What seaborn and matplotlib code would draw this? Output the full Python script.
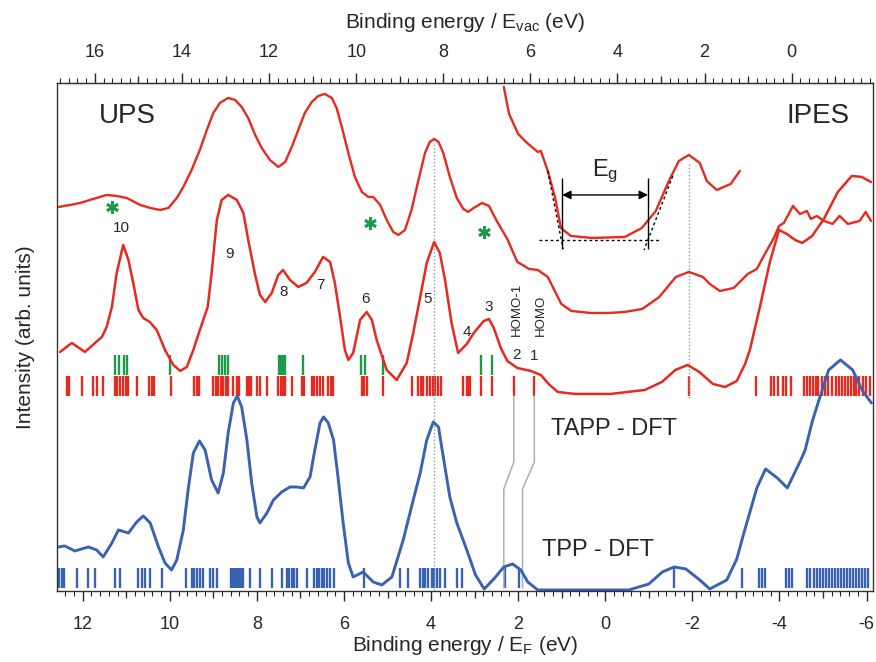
import matplotlib
matplotlib.use("Agg")
import matplotlib.pyplot as plt
from matplotlib.ticker import MultipleLocator
import seaborn as sns

# E_vac = E_F + work function
VAC_OFFSET = 4.28

# measured UPS + IPES spectrum (x: binding energy vs E_F, y: arb. units)
exp_energy = [12.55, 12.29, 12.06, 11.76, 11.45, 11.22, 10.99, 10.68, 10.45, 10.22,
              10.03, 9.84, 9.69, 9.50, 9.31, 9.15, 9.00, 8.85, 8.66, 8.50,
              8.35, 8.20, 8.04, 7.89, 7.70, 7.51, 7.35, 7.20, 7.05, 6.90,
              6.74, 6.59, 6.44, 6.28, 6.17, 6.05, 5.90, 5.75, 5.59, 5.44,
              5.33, 5.17, 5.02, 4.87, 4.75, 4.60, 4.45, 4.29, 4.14, 4.03,
              3.93, 3.83, 3.72, 3.57, 3.41, 3.26, 3.15, 3.02, 2.83, 2.67,
              2.48, 2.25, 2.02, 1.94, 1.75, 1.55, 1.32, 1.16, 1.01, 0.78,
              0.35, -0.08, -0.45, -0.85, -1.24, -1.62, -1.92, -2.24, -2.40, -2.63,
              -2.95, -3.27, -3.48, -3.64, -3.87, -3.99, -4.10, -4.31, -4.47, -4.63,
              -4.72, -4.86, -5.02, -5.22, -5.38, -5.57, -5.84, -5.98, -6.10]
exp_intensity = [393, 395, 397, 401, 405, 404, 402, 395, 392, 390,
                 392, 402, 413, 430, 450, 470, 487, 497, 502, 500,
                 493, 482, 465, 452, 440, 433, 438, 453, 470, 487,
                 498, 504, 506, 502, 492, 473, 447, 423, 408, 403,
                 403, 395, 380, 368, 365, 370, 390, 420, 447, 458,
                 461, 458, 447, 423, 402, 391, 388, 392, 397, 394,
                 378, 361, 338, 336, 331, 330, 323, 309, 296, 289,
                 287, 287, 288, 291, 303, 323, 328, 323, 316, 309,
                 312, 326, 331, 344, 362, 374, 377, 394, 386, 389,
                 381, 384, 379, 376, 384, 376, 379, 388, 379]

# magnified gap region (upper trace)
gap_energy = [2.33, 2.21, 2.00, 1.77, 1.55, 1.48, 1.32, 1.15, 1.02, 0.79, 0.31, -0.45,
              -0.84, -1.16, -1.46, -1.69, -1.92, -2.17, -2.33, -2.56, -2.88, -3.09]
gap_intensity = [513, 486, 466, 456, 448, 449, 429, 402, 372, 364, 362, 363,
                 372, 389, 419, 439, 445, 437, 419, 410, 416, 429]

# broadened TAPP DFT density of states
tapp_energy = [12.52, 12.25, 11.95, 11.56, 11.45, 11.33, 11.22, 11.07, 10.95, 10.84,
               10.72, 10.61, 10.46, 10.30, 10.11, 9.92, 9.76, 9.61, 9.46, 9.31,
               9.13, 9.04, 8.92, 8.81, 8.66, 8.46, 8.31, 8.20, 8.04, 7.93,
               7.81, 7.66, 7.51, 7.40, 7.24, 7.05, 6.86, 6.67, 6.48, 6.32,
               6.21, 6.09, 5.98, 5.90, 5.79, 5.63, 5.48, 5.36, 5.25, 5.02,
               4.79, 4.56, 4.41, 4.25, 4.10, 3.93, 3.80, 3.68, 3.53, 3.38,
               3.18, 3.02, 2.79, 2.67, 2.56, 2.40, 2.25, 2.02, 1.71, 1.48,
               1.28, 1.09, 0.70, -0.11, -0.91, -1.30, -1.61, -1.89, -2.16, -2.47,
               -2.75, -3.02, -3.21, -3.32, -3.55, -3.78, -3.99, -4.17, -4.36, -4.52,
               -4.75, -5.02, -5.34, -5.66, -5.89, -6.10]
tapp_intensity = [248, 257, 248, 263, 273, 293, 327, 355, 340, 317,
                  290, 282, 278, 270, 250, 235, 229, 233, 250, 270,
                  293, 327, 380, 400, 405, 400, 387, 360, 325, 305,
                  298, 307, 325, 330, 320, 313, 317, 328, 343, 338,
                  317, 283, 250, 240, 247, 280, 288, 280, 260, 230,
                  220, 237, 267, 303, 337, 358, 347, 320, 277, 247,
                  256, 267, 279, 281, 272, 252, 239, 232, 229, 225,
                  215, 208, 206, 206, 210, 218, 230, 235, 228, 216,
                  213, 219, 236, 250, 293, 338, 370, 366, 360, 357,
                  364, 381, 408, 424, 423, 418]

# broadened TPP DFT density of states
tpp_energy = [12.55, 12.41, 12.18, 11.87, 11.68, 11.53, 11.33, 11.18, 10.95, 10.76,
              10.61, 10.45, 10.26, 10.11, 9.96, 9.84, 9.69, 9.58, 9.46, 9.32,
              9.19, 9.04, 8.89, 8.77, 8.66, 8.54, 8.45, 8.35, 8.23, 8.12,
              8.00, 7.93, 7.77, 7.62, 7.43, 7.24, 7.09, 6.93, 6.78, 6.67,
              6.55, 6.47, 6.36, 6.24, 6.13, 6.02, 5.90, 5.79, 5.56, 5.33,
              5.13, 4.90, 4.64, 4.41, 4.25, 4.10, 3.95, 3.83, 3.72, 3.57,
              3.41, 3.18, 2.98, 2.78, 2.56, 2.33, 2.13, 1.94, 1.78, 1.55,
              1.30, 0.50, -0.54, -1.00, -1.31, -1.58, -1.85, -2.17, -2.40, -2.79,
              -3.02, -3.17, -3.48, -3.68, -3.95, -4.18, -4.49, -4.59, -4.75, -4.90,
              -5.13, -5.40, -5.68, -5.91, -6.11]
tpp_intensity = [53, 54, 49, 53, 50, 43, 57, 70, 67, 78,
                 84, 77, 53, 37, 30, 40, 70, 110, 147, 159,
                 150, 120, 107, 127, 167, 197, 204, 193, 160, 117,
                 83, 77, 87, 100, 108, 113, 113, 112, 123, 150,
                 177, 183, 177, 160, 120, 77, 37, 23, 28, 18,
                 15, 23, 60, 100, 127, 160, 178, 173, 143, 103,
                 77, 50, 25, 11, 21, 33, 36, 30, 18, 10,
                 10, 10, 10, 16, 28, 33, 31, 20, 11, 20,
                 41, 65, 112, 131, 122, 112, 140, 150, 178, 199,
                 230, 240, 230, 209, 197]

# orbital energies (sticks)
green_sticks = [11.26, 11.17, 11.06, 10.98, 9.99, 8.87, 8.81, 8.73, 8.66, 7.49, 7.45,
                7.40, 7.36, 6.94, 5.61, 5.52, 5.11, 2.85, 2.60]
tapp_sticks = [12.37, 12.31, 12.02, 11.76, 11.68, 11.54, 11.26, 11.21, 11.14, 11.07, 11.01,
               10.95, 10.76, 10.47, 10.42, 10.36, 9.98, 9.44, 9.38, 9.32, 9.00, 8.95, 8.89,
               8.83, 8.77, 8.72, 8.66, 8.54, 8.46, 8.40, 8.23, 8.19, 8.14, 8.00, 7.93, 7.77,
               7.51, 7.45, 7.40, 7.35, 7.20, 6.97, 6.93, 6.74, 6.69, 6.63, 6.55, 6.48, 6.36,
               6.31, 6.26, 5.59, 5.54, 5.48, 5.10, 4.45, 4.29, 4.24, 4.18, 4.09, 4.03, 3.96,
               3.90, 3.84, 3.78, 3.26, 3.18, 3.15, 3.11, 2.85, 2.60, 2.10, 1.63, -1.92,
               -3.46, -3.80, -3.87, -3.96, -4.08, -4.15, -4.26, -4.56, -4.63, -4.70, -4.77,
               -4.84, -4.88, -4.98, -5.04, -5.11, -5.20, -5.29, -5.36, -5.43, -5.50, -5.57,
               -5.64, -5.71, -5.75, -5.82, -5.92, -5.99, -6.08]
tpp_sticks = [12.54, 12.48, 12.43, 12.14, 11.87, 11.72, 11.26, 11.14, 10.72, 10.65, 10.57,
              10.46, 10.19, 9.63, 9.50, 9.44, 9.38, 9.31, 9.23, 9.08, 9.00, 8.92, 8.60,
              8.56, 8.51, 8.46, 8.42, 8.37, 8.33, 8.16, 7.93, 7.66, 7.43, 7.32, 7.26, 7.20,
              7.15, 7.09, 6.86, 6.69, 6.63, 6.57, 6.51, 6.46, 6.40, 6.32, 6.23, 5.54, 4.71,
              4.52, 4.25, 4.19, 4.13, 4.06, 3.99, 3.93, 3.87, 3.80, 3.68, 3.41, 3.30, 2.30,
              1.98, -1.58, -3.14, -3.53, -3.60, -3.67, -4.15, -4.22, -4.29, -4.63, -4.70,
              -4.79, -4.86, -4.93, -5.00, -5.07, -5.14, -5.20, -5.27, -5.34, -5.41, -5.48,
              -5.55, -5.61, -5.68, -5.75, -5.82, -5.89, -5.96, -6.03]

# peak numbering on the TAPP curve
peak_labels = ['10', '9', '8', '7', '6', '5', '4', '3', '2', '1']
peak_label_energy = [11.12, 8.62, 7.38, 6.53, 5.50, 4.07, 3.18, 2.67, 2.05, 1.64]
peak_label_intensity = [372, 346, 308, 315, 301, 301, 268, 293, 245, 244]

# satellite features
asterisk_energy = [11.32, 5.40, 2.79]
asterisk_intensity = [393, 377, 368]

# HOMO-1 / HOMO correlation lines between TAPP and TPP
homo1_link_energy = [2.10, 2.10, 2.33, 2.33]
homo_link_energy = [1.63, 1.63, 1.90, 1.90]
link_intensity = [204, 138, 111, 12]

# gap construction
gap_edges = [0.99, -0.98]
gap_baseline_energy = [1.52, -1.28]
left_tangent_energy = [1.32, 0.97]
left_tangent_intensity = [429, 351]
right_tangent_energy = [-1.55, -0.89]
right_tangent_intensity = [424, 350]

RED = '#e62a1f'
BLUE = '#3a62b2'
GREEN = '#1e9a4b'
GUIDE = '#8c9caa'
LINK = '#a3b3bc'

sns.set_style('white')
plt.rcParams['font.family'] = ['Liberation Sans', 'DejaVu Sans']
plt.rcParams['mathtext.default'] = 'regular'
plt.rcParams['axes.unicode_minus'] = False

fig = plt.figure(figsize=(8.76, 6.62), dpi=100)
ax = fig.add_axes([0.0651, 0.1073, 0.9311, 0.7674])

# stick spectra
ax.vlines(green_sticks, 225, 245, color=GREEN, lw=1.7)
ax.vlines(tapp_sticks, 204, 224, color=RED, lw=1.7)
ax.vlines(tpp_sticks, 12, 32, color=BLUE, lw=1.7)

# guide lines
ax.vlines(3.93, 10, 458, color=GUIDE, lw=1, linestyles=(0, (1, 1.5)))
ax.vlines(-1.92, 202, 437, color=GUIDE, lw=1, linestyles=(0, (1, 1.5)))
ax.plot(homo1_link_energy, link_intensity, color=LINK, lw=1.1)
ax.plot(homo_link_energy, link_intensity, color=LINK, lw=1.1)

# curves
for xs, ys, col, lw in [(exp_energy, exp_intensity, RED, 1.7),
                        (gap_energy, gap_intensity, RED, 1.7),
                        (tapp_energy, tapp_intensity, RED, 1.8),
                        (tpp_energy, tpp_intensity, BLUE, 2.1)]:
    sns.lineplot(x=xs, y=ys, ax=ax, color=col, lw=lw, sort=False, estimator=None)

# gap construction
ax.plot(gap_baseline_energy, [360, 360], color='black', lw=1, ls=(0, (2, 2)))
ax.plot(left_tangent_energy, left_tangent_intensity, color='black', lw=1, ls=(0, (2, 2)))
ax.plot(right_tangent_energy, right_tangent_intensity, color='black', lw=1, ls=(0, (2, 2)))
ax.vlines(gap_edges, 351, 422, color='black', lw=1)
ax.annotate('', xy=(gap_edges[1], 405), xytext=(gap_edges[0], 405),
            arrowprops=dict(arrowstyle='<|-|>', color='black', lw=1,
                            shrinkA=0, shrinkB=0, mutation_scale=13))
ax.text(0.01, 429, 'E$_g$', fontsize=17, ha='center', va='center')

# annotations
ax.plot(asterisk_energy, asterisk_intensity, ls='none', marker=(6, 2, 0),
        ms=9, mew=2, color=GREEN)
for lab, xe, yi in zip(peak_labels, peak_label_energy, peak_label_intensity):
    ax.text(xe, yi, lab, fontsize=11, ha='center', va='center')
ax.text(2.02, 264, 'HOMO-1', fontsize=9.5, rotation=90, ha='center', va='bottom')
ax.text(1.48, 264, 'HOMO', fontsize=9.5, rotation=90, ha='center', va='bottom')
ax.text(10.98, 484, 'UPS', fontsize=20, ha='center', va='center')
ax.text(-4.89, 484, 'IPES', fontsize=20, ha='center', va='center')
ax.text(-0.20, 171, 'TAPP - DFT', fontsize=17, ha='center', va='center')
ax.text(0.17, 50, 'TPP - DFT', fontsize=17, ha='center', va='center')

# axes
ax.set_xlim(12.59, -6.14)
ax.set_ylim(9, 517)
ax.set_yticks([])
for side in ['left', 'right', 'top', 'bottom']:
    ax.spines[side].set_visible(True)
    ax.spines[side].set_color('#333333')
    ax.spines[side].set_linewidth(1.0)

ax.set_xticks(list(range(-6, 13, 2)))
ax.xaxis.set_minor_locator(MultipleLocator(0.2))
ax.tick_params(axis='x', which='major', direction='out', length=7, width=1,
               labelsize=13, pad=11, bottom=True, top=False)
ax.tick_params(axis='x', which='minor', direction='out', length=3.5, width=0.8,
               bottom=True, top=False)
ax.set_xlabel('Binding energy / E$_F$ (eV)', fontsize=15, labelpad=1)
ax.set_ylabel('Intensity (arb. units)', fontsize=15, labelpad=16)

mid_ticks = list(range(-5, 13, 2))
mid = ax.secondary_xaxis('bottom')
mid.set_xticks(mid_ticks, labels=[''] * len(mid_ticks))
mid.tick_params(direction='out', length=5, width=0.9)
mid.spines['bottom'].set_visible(False)

to_vac = (lambda e: e + VAC_OFFSET, lambda v: v - VAC_OFFSET)
top = ax.secondary_xaxis('top', functions=to_vac)
top.set_xticks(list(range(0, 17, 2)))
top.xaxis.set_minor_locator(MultipleLocator(0.2))
top.tick_params(which='major', direction='out', length=7, width=1, labelsize=13, pad=9)
top.tick_params(which='minor', direction='out', length=3.5, width=0.8)
top.set_xlabel('Binding energy / E$_{vac}$ (eV)', fontsize=15, labelpad=11)

topmid_ticks = list(range(-1, 17, 2))
topmid = ax.secondary_xaxis('top', functions=to_vac)
topmid.set_xticks(topmid_ticks, labels=[''] * len(topmid_ticks))
topmid.tick_params(direction='out', length=5, width=0.9)
topmid.spines['top'].set_visible(False)

fig.savefig('out.png', dpi=100)
